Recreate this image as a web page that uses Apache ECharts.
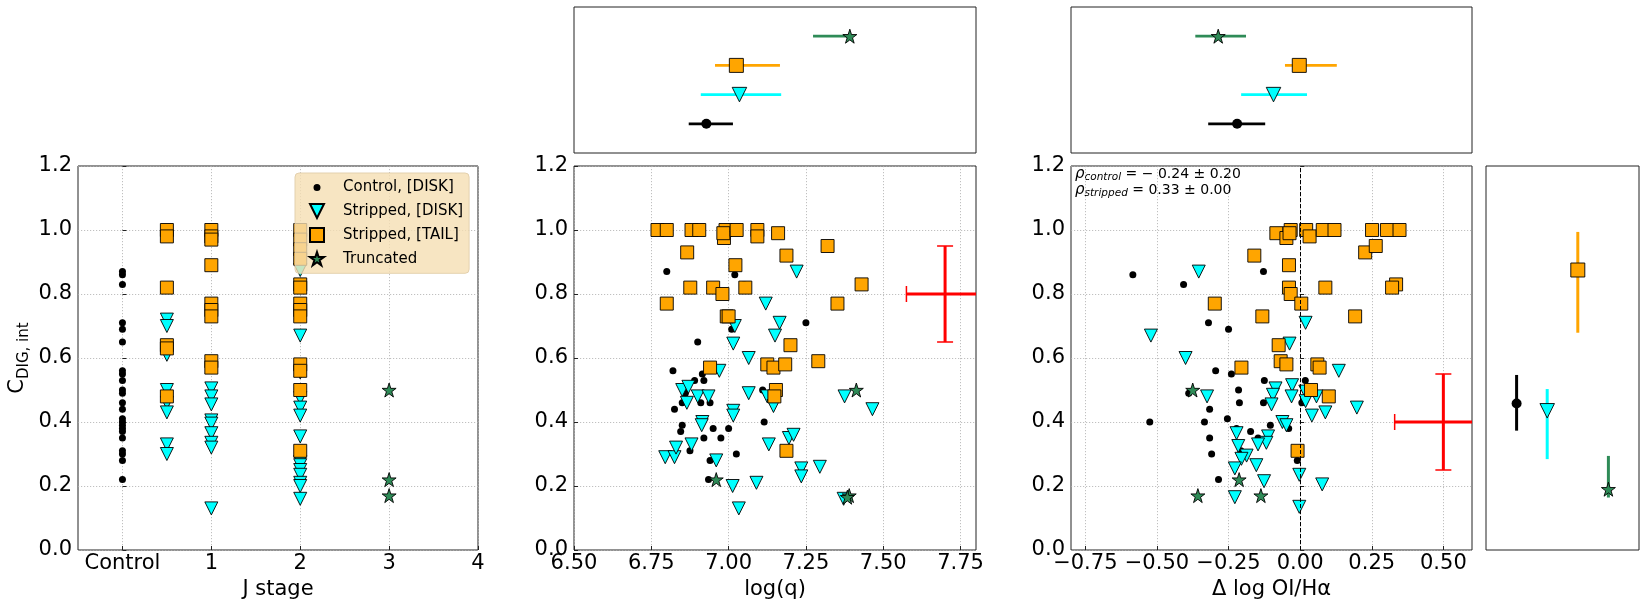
<!DOCTYPE html>
<html lang="en">
<head>
<meta charset="UTF-8">
<title>C_DIG,int vs J stage, log(q) and OI/Ha</title>
<script src="https://cdn.jsdelivr.net/npm/echarts@6/dist/echarts.min.js"></script>
<style>
    html, body {margin: 0; padding: 0; background: #fff;}
    #main {width: 1645px; height: 609px;}
</style>
</head>
<body>
<div id="main"></div>
<script>
// ---------- values ----------
// left panel: J stage vs C_DIG,int
var jCtrl = [[0,0.87],[0,0.86],[0,0.83],[0,0.71],[0,0.69],[0,0.65],[0,0.56],[0,0.55],[0,0.53],[0,0.50],[0,0.49],[0,0.46],
    [0,0.44],[0,0.41],[0,0.40],[0,0.39],[0,0.38],[0,0.37],[0,0.35],[0,0.31],[0,0.30],[0,0.28],[0,0.22]];
var jDisk = [[0.5,0.72],[0.5,0.70],[0.5,0.61],[0.5,0.50],[0.5,0.46],[0.5,0.43],[0.5,0.33],[0.5,0.30],
    [1,0.505],[1,0.48],[1,0.455],[1,0.405],[1,0.395],[1,0.365],[1,0.335],[1,0.32],[1,0.13],
    [2,0.875],[2,0.67],[2,0.555],[2,0.475],[2,0.445],[2,0.42],[2,0.355],[2,0.275],[2,0.265],[2,0.25],[2,0.235],[2,0.21],[2,0.20],[2,0.16]];
var jTail = [[0.5,1.00],[0.5,0.98],[0.5,0.82],[0.5,0.64],[0.5,0.63],[0.5,0.48],
    [1,1.00],[1,0.98],[1,0.97],[1,0.89],[1,0.77],[1,0.75],[1,0.73],[1,0.59],[1,0.57],
    [2,1.00],[2,0.97],[2,0.94],[2,0.91],[2,0.83],[2,0.82],[2,0.77],[2,0.75],[2,0.73],[2,0.58],[2,0.56],[2,0.50],[2,0.31]];
var jTrunc = [[3,0.50],[3,0.22],[3,0.17]];

// middle panel: log(q) vs C_DIG,int
var qCtrl = [[6.80,0.87],[7.02,0.86],[7.05,0.83],[7.25,0.71],[7.01,0.69],[6.90,0.65],[6.82,0.56],[6.915,0.55],[6.89,0.53],
    [6.92,0.53],[7.11,0.50],[6.86,0.49],[6.85,0.46],[6.91,0.46],[6.94,0.46],[6.825,0.44],[6.85,0.39],[6.845,0.37],
    [7.115,0.40],[6.95,0.38],[7.00,0.38],[6.92,0.35],[6.975,0.35],[6.875,0.31],[7.025,0.30],[6.94,0.28],[6.935,0.22]];
var qDisk = [[7.22,0.87],[7.12,0.77],[7.165,0.71],[7.15,0.67],[7.02,0.70],[7.015,0.645],[7.065,0.60],[6.97,0.56],
    [6.85,0.50],[6.87,0.51],[6.865,0.46],[6.90,0.48],[6.935,0.48],[7.065,0.49],[7.125,0.48],[7.145,0.45],[7.015,0.435],
    [7.015,0.42],[6.915,0.40],[6.913,0.39],[6.795,0.29],[6.825,0.29],[6.83,0.32],[6.88,0.33],[6.96,0.28],[7.013,0.20],
    [7.033,0.13],[7.09,0.21],[7.13,0.33],[7.195,0.35],[7.21,0.36],[7.235,0.255],[7.235,0.23],[7.295,0.26],[7.375,0.48],
    [7.465,0.44],[7.372,0.16]];
var qTail = [[6.77,1.00],[6.80,1.00],[6.88,1.00],[6.905,1.00],[6.99,1.00],[6.985,0.975],[6.983,0.99],[7.026,1.00],
    [7.093,1.00],[7.093,0.98],[7.16,0.99],[6.866,0.93],[7.32,0.95],[7.187,0.92],[7.022,0.89],[6.876,0.82],[6.95,0.82],
    [7.054,0.82],[6.98,0.80],[6.80,0.77],[7.43,0.83],[7.352,0.77],[6.994,0.73],[7.00,0.73],[7.20,0.64],[7.29,0.59],
    [6.94,0.57],[7.125,0.58],[7.145,0.57],[7.183,0.58],[7.153,0.50],[7.148,0.48],[7.187,0.31]];
var qTrunc = [[6.96,0.22],[7.413,0.50],[7.39,0.17],[7.384,0.165]];

// right panel: delta log OI/Ha vs C_DIG,int
var oCtrl = [[-0.584,0.86],[-0.407,0.83],[-0.525,0.40],[-0.32,0.71],[-0.25,0.69],[-0.295,0.56],[-0.24,0.55],[-0.389,0.49],
    [-0.215,0.50],[-0.212,0.46],[-0.316,0.44],[-0.334,0.40],[-0.254,0.41],[-0.316,0.35],[-0.309,0.30],[-0.285,0.22],
    [-0.222,0.38],[-0.207,0.31],[-0.173,0.37],[-0.147,0.35],[-0.125,0.53],[-0.128,0.46],[-0.128,0.87],[-0.104,0.39],
    [-0.04,0.38],[-0.01,0.28],[0.018,0.53],[0.006,0.46]];
var oDisk = [[-0.354,0.87],[-0.521,0.67],[-0.40,0.60],[-0.325,0.48],[-0.037,0.645],[0.019,0.71],[0.135,0.56],[-0.086,0.505],
    [-0.095,0.485],[-0.10,0.455],[-0.028,0.515],[-0.03,0.48],[0.018,0.495],[0.019,0.465],[0.057,0.48],[0.041,0.42],
    [0.088,0.43],[0.198,0.445],[-0.062,0.40],[-0.048,0.39],[-0.112,0.355],[-0.118,0.335],[-0.147,0.33],[-0.222,0.365],
    [-0.216,0.325],[-0.187,0.295],[-0.205,0.285],[-0.228,0.255],[-0.153,0.265],[-0.126,0.215],[-0.228,0.165],
    [-0.003,0.235],[-0.003,0.135],[0.077,0.205]];
var oTail = [[-0.083,0.99],[-0.048,0.975],[-0.033,1.00],[-0.037,0.99],[0.021,1.00],[0.033,0.98],[0.079,1.00],[0.12,1.00],
    [0.251,1.00],[0.303,1.00],[0.347,1.00],[0.227,0.93],[0.264,0.95],[-0.16,0.92],[-0.039,0.89],[-0.039,0.82],
    [-0.033,0.80],[0.088,0.82],[0.335,0.83],[0.321,0.82],[-0.298,0.77],[-0.132,0.73],[0.004,0.77],[0.192,0.73],
    [-0.075,0.64],[-0.068,0.59],[-0.048,0.58],[-0.205,0.57],[0.06,0.58],[0.068,0.57],[0.038,0.50],[0.10,0.48],[-0.009,0.31]];
var oTrunc = [[-0.375,0.50],[-0.357,0.17],[-0.213,0.22],[-0.137,0.17]];

// group summaries (order: control, stripped disk, stripped tail, truncated)
var meanRows = [1, 2, 3, 4];
var qMean = [6.928, 7.035, 7.025, 7.392];
var qLow  = [6.871, 6.910, 6.956, 7.273];
var qHigh = [7.014, 7.170, 7.166, 7.392];
var oMean = [-0.220, -0.093, -0.003, -0.286];
var oLow  = [-0.321, -0.206, -0.053, -0.366];
var oHigh = [-0.122, 0.024, 0.128, -0.189];
var cMean = [0.458, 0.435, 0.875, 0.190];
var cLow  = [0.373, 0.284, 0.679, 0.164];
var cHigh = [0.547, 0.503, 0.994, 0.294];

// typical uncertainties [x, y, xerr, yerr]
var typErrQ = [7.70, 0.80, 0.125, 0.15];
var typErrO = [0.50, 0.40, 0.17, 0.15];

// tick labels
var jTicks = [0, 1, 2, 3, 4];
var jTickNames = ['Control', '1', '2', '3', '4'];
var qTicks = [6.5, 6.75, 7.0, 7.25, 7.5, 7.75];
var oTicks = [-0.75, -0.5, -0.25, 0, 0.25, 0.5];
var rhoControl = '− 0.24 ± 0.20';
var rhoStripped = '0.33 ± 0.00';

// ---------- styling ----------
var FONT = 'DejaVu Sans';
var TRI = 'path://M0,0L2,0L1,2Z';
var STAR = 'path://M100,0L122.45,69.1L195.1,69.1L136.3,111.8L158.8,180.9L100,138.2L41.2,180.9L63.7,111.8L4.9,69.1L77.55,69.1Z';
var DOT = 'path://M0,0L0.01,0Z M20,20L19.99,20Z M10,5A5,5,0,1,1,10,15A5,5,0,1,1,10,5Z';
var groupNames = ['Control, [DISK]', 'Stripped, [DISK]', 'Stripped, [TAIL]', 'Truncated'];
var groupColors = ['#000000', '#00ffff', '#ffa500', '#2e8b57'];
var groupSymbols = ['circle', TRI, 'rect', STAR];
var pointSizes = [7, 13, 13, 14];
var meanSizes = [10, 14.5, 14, 14];

var myChart = echarts.init(document.getElementById('main'));

function pointSeries(ax, data, g, size) {
    return {
        type: 'scatter', name: groupNames[g],
        xAxisIndex: ax, yAxisIndex: ax,
        data: data,
        symbol: groupSymbols[g], symbolSize: size,
        itemStyle: {color: groupColors[g], borderColor: '#000', borderWidth: g === 0 ? 0 : 0.9, opacity: 1},
        emphasis: {disabled: true},
        silent: true
    };
}

// horizontal (top panels) or vertical (side panel) bars of the group summaries
function summarySeries(ax, centre, low, high, horizontal, width) {
    var items = [];
    for (var g = 0; g < 4; g++) {
        var v = horizontal ? [centre[g], meanRows[g], low[g], high[g]] : [meanRows[g], centre[g], low[g], high[g]];
        items.push({value: v, itemStyle: {color: groupColors[g]}});
    }
    return {
        type: 'custom', xAxisIndex: ax, yAxisIndex: ax, clip: true, silent: true, z: 1,
        data: items,
        renderItem: function (params, api) {
            var a, b;
            if (horizontal) {
                a = api.coord([api.value(2), api.value(1)]);
                b = api.coord([api.value(3), api.value(1)]);
            } else {
                a = api.coord([api.value(0), api.value(2)]);
                b = api.coord([api.value(0), api.value(3)]);
            }
            return {type: 'line', shape: {x1: a[0], y1: a[1], x2: b[0], y2: b[1]},
                style: {stroke: api.visual('color'), lineWidth: width}};
        }
    };
}

function summaryPoints(ax, centre, horizontal) {
    var out = [];
    for (var g = 0; g < 4; g++) {
        var p = horizontal ? [centre[g], meanRows[g]] : [meanRows[g], centre[g]];
        out.push(pointSeries(ax, [p], g, meanSizes[g]));
    }
    return out;
}

function typicalError(ax, e) {
    return {
        type: 'custom', xAxisIndex: ax, yAxisIndex: ax, clip: true, silent: true, z: 1,
        data: [e],
        renderItem: function (params, api) {
            var c = api.coord([api.value(0), api.value(1)]);
            var l = api.coord([api.value(0) - api.value(2), api.value(1)]);
            var r = api.coord([api.value(0) + api.value(2), api.value(1)]);
            var t = api.coord([api.value(0), api.value(1) + api.value(3)]);
            var b = api.coord([api.value(0), api.value(1) - api.value(3)]);
            var red = {stroke: '#ff0000', lineWidth: 3};
            var cap = {stroke: '#ff0000', lineWidth: 1.5};
            var h = 8;
            return {type: 'group', children: [
                {type: 'line', shape: {x1: l[0], y1: l[1], x2: r[0], y2: r[1]}, style: red},
                {type: 'line', shape: {x1: t[0], y1: t[1], x2: b[0], y2: b[1]}, style: red},
                {type: 'line', shape: {x1: l[0], y1: l[1] - h, x2: l[0], y2: l[1] + h}, style: cap},
                {type: 'line', shape: {x1: r[0], y1: r[1] - h, x2: r[0], y2: r[1] + h}, style: cap},
                {type: 'line', shape: {x1: t[0] - h, y1: t[1], x2: t[0] + h, y2: t[1]}, style: cap},
                {type: 'line', shape: {x1: b[0] - h, y1: b[1], x2: b[0] + h, y2: b[1]}, style: cap}
            ]};
        }
    };
}

var gridLine = {show: true, lineStyle: {color: '#b0b0b0', width: 0.8, type: [1.2, 1.8]}};
var tickIn = {inside: true, length: 4, lineStyle: {color: '#222'}};

function mainX(grid, min, max, ticks, fmt, name) {
    return {
        type: 'value', gridIndex: grid, min: min, max: max,
        axisLine: {show: false},
        axisTick: {inside: true, length: 4, lineStyle: {color: '#222'}, customValues: ticks},
        axisLabel: {fontSize: 21, color: '#000', fontFamily: FONT, margin: 3, customValues: ticks, formatter: fmt},
        splitLine: gridLine,
        name: name, nameLocation: 'middle', nameGap: 26,
        nameTextStyle: {fontSize: 21, color: '#000', fontFamily: FONT}
    };
}
function mainY(grid) {
    return {
        type: 'value', gridIndex: grid, min: 0, max: 1.2, interval: 0.2,
        axisLine: {show: false},
        axisTick: tickIn,
        axisLabel: {fontSize: 21, color: '#000', fontFamily: FONT, margin: 6,
            formatter: function (v) { return v.toFixed(1); }},
        splitLine: gridLine
    };
}
function hiddenAxis(grid, min, max) {
    return {type: 'value', gridIndex: grid, min: min, max: max, show: false};
}

var frame = {show: true, borderColor: '#222', borderWidth: 1, backgroundColor: 'transparent'};
function box(l, t, w, h) {
    return Object.assign({left: l, top: t, width: w, height: h}, frame);
}

var yLeft = mainY(0);
yLeft.name = '{c|C}{s|DIG, int}';
yLeft.nameLocation = 'middle';
yLeft.nameGap = 46;
yLeft.nameTextStyle = {color: '#000', fontFamily: FONT, rich: {
    c: {fontSize: 21, lineHeight: 28, fontFamily: FONT},
    s: {fontSize: 15, lineHeight: 14, verticalAlign: 'bottom', fontFamily: FONT}
}};

var series = [];
var sets = [[jCtrl, jDisk, jTail, jTrunc], [qCtrl, qDisk, qTail, qTrunc], [oCtrl, oDisk, oTail, oTrunc]];
var setAxes = [0, 1, 3];
for (var s = 0; s < 3; s++) {
    for (var g = 0; g < 4; g++) {
        series.push(pointSeries(setAxes[s], sets[s][g], g, pointSizes[g]));
    }
}
// vertical zero line on the OI panel
series[8].markLine = {
    silent: true, symbol: 'none', label: {show: false},
    lineStyle: {color: '#000', width: 1, type: [4, 2]},
    data: [{xAxis: 0}]
};
series.push(typicalError(1, typErrQ));
series.push(typicalError(3, typErrO));
series.push(summarySeries(2, qMean, qLow, qHigh, true, 2.7));
series.push(summarySeries(4, oMean, oLow, oHigh, true, 2.7));
series.push(summarySeries(5, cMean, cLow, cHigh, false, 3));
series = series.concat(summaryPoints(2, qMean, true), summaryPoints(4, oMean, true), summaryPoints(5, cMean, false));

var option = {
    animation: false,
    textStyle: {fontFamily: FONT},
    grid: [
        box(78, 166, 400, 384),
        box(574, 166, 402, 384),
        box(574, 7, 402, 146),
        box(1071, 166, 401, 384),
        box(1071, 7, 401, 146),
        box(1486, 166, 153, 384)
    ],
    xAxis: [
        mainX(0, -0.5, 4, jTicks, function (v) { return jTickNames[jTicks.indexOf(v)]; }, 'J stage'),
        mainX(1, 6.5, 7.8, qTicks, function (v) { return v.toFixed(2); }, 'log(q)'),
        hiddenAxis(2, 6.5, 7.8),
        mainX(3, -0.8, 0.6, oTicks, function (v) { return (v < 0 ? '−' : '') + Math.abs(v).toFixed(2); }, 'Δ log OI/Hα'),
        hiddenAxis(4, -0.8, 0.6),
        hiddenAxis(5, 0, 5)
    ],
    yAxis: [
        yLeft,
        mainY(1),
        hiddenAxis(2, 0, 5),
        mainY(3),
        hiddenAxis(4, 0, 5),
        hiddenAxis(5, 0, 1.2)
    ],
    legend: {
        left: 295, top: 173, orient: 'vertical',
        selectedMode: false,
        padding: [7, 6, 7, 14], itemGap: 8, itemWidth: 14, itemHeight: 14,
        backgroundColor: 'rgba(245,222,179,0.8)',
        borderColor: 'rgba(225,205,170,0.9)', borderWidth: 1, borderRadius: 4,
        textStyle: {fontSize: 15, color: '#000', fontFamily: FONT, padding: [0, 0, 0, 14]},
        data: [
            {name: groupNames[0], icon: DOT},
            {name: groupNames[1], icon: TRI},
            {name: groupNames[2], icon: 'rect'},
            {name: groupNames[3], icon: STAR}
        ]
    },
    graphic: [{
        type: 'text', left: 1075, top: 167, silent: true,
        style: {
            text: '{r|ρ}{s|control}{t| = ' + rhoControl + '}\n{r|ρ}{s|stripped}{t| = ' + rhoStripped + '}',
            rich: {
                r: {fontSize: 15, fontStyle: 'italic', fontFamily: FONT, lineHeight: 16, fill: '#000'},
                s: {fontSize: 10.5, fontStyle: 'italic', fontFamily: FONT, lineHeight: 10, verticalAlign: 'bottom', fill: '#000'},
                t: {fontSize: 14, fontFamily: FONT, lineHeight: 16, fill: '#000'}
            }
        }
    }],
    series: series
};
myChart.setOption(option);
</script>
</body>
</html>
